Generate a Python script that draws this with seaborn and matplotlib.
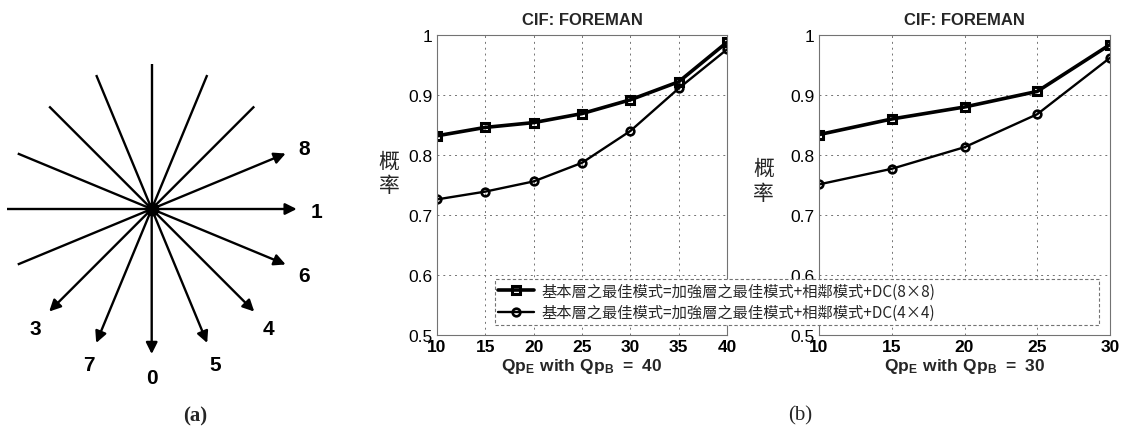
import numpy as np
import pandas as pd
import matplotlib
matplotlib.use("Agg")
import matplotlib.pyplot as plt
from matplotlib.font_manager import FontProperties
import seaborn as sns

# ---- data -------------------------------------------------------------
# (a) intra 4x4 prediction directions: mode number and angle (degrees, CCW from +x)
mode_labels = ["8", "1", "6", "4", "5", "0", "7", "3"]
mode_angles = [22.5, 0.0, -22.5, -45.0, -67.5, -90.0, -112.5, -135.0]

# (b) probability curves
qp_e_left = [10, 15, 20, 25, 30, 35, 40]
dc8_left = [0.832, 0.846, 0.854, 0.869, 0.892, 0.922, 0.988]
dc4_left = [0.726, 0.739, 0.756, 0.787, 0.840, 0.911, 0.976]

qp_e_right = [10, 15, 20, 25, 30]
dc8_right = [0.834, 0.860, 0.880, 0.906, 0.984]
dc4_right = [0.751, 0.777, 0.813, 0.868, 0.962]

series_names = ["基本層之最佳模式=加強層之最佳模式+相鄰模式+DC(8×8)",
                "基本層之最佳模式=加強層之最佳模式+相鄰模式+DC(4×4)"]
panel_title = "CIF: FOREMAN"
xlabels = [r"$\mathbf{Qp_E\ with\ Qp_B\ =\ 40}$", r"$\mathbf{Qp_E\ with\ Qp_B\ =\ 30}$"]
y_label = "概\n率"
y_ticks = [0.5, 0.6, 0.7, 0.8, 0.9, 1.0]
y_ticklabels = ["0.5", "0.6", "0.7", "0.8", "0.9", "1"]

# ---- style ------------------------------------------------------------
sns.set_style("white")
plt.rcParams["font.family"] = ["Liberation Sans", "Noto Sans CJK TC", "DejaVu Sans"]
plt.rcParams["mathtext.fontset"] = "custom"
plt.rcParams["mathtext.bf"] = "Liberation Sans:bold"
plt.rcParams["mathtext.rm"] = "Liberation Sans"

W, H = 1121, 435
fig = plt.figure(figsize=(W / 100, H / 100), dpi=100)

# ---- (a) direction star -----------------------------------------------
R = 145.0   # pixels per unit radius
cx, cy = 151.7, 210.0
ax0 = fig.add_axes([0, 0, 340 / W, 1])
ax0.set_xlim(-cx / R, (340 - cx) / R)
ax0.set_ylim((cy - H) / R, cy / R)
ax0.axis("off")
for lab, ang in zip(mode_labels, mode_angles):
    t = np.deg2rad(ang)
    dx, dy = np.cos(t), np.sin(t)
    # back half of the line (no arrowhead)
    ax0.plot([0, -dx], [0, -dy], color="black", lw=1.7, solid_capstyle="butt")
    ax0.annotate("", xy=(dx, dy), xytext=(0, 0),
                 arrowprops=dict(arrowstyle="-|>", color="black", lw=1.7,
                                 mutation_scale=17, shrinkA=0, shrinkB=0))
    ax0.text(1.14 * dx, 1.14 * dy - 0.02, lab, fontsize=15, fontweight="bold",
             ha="center", va="center", color="black")
ax0.plot([0], [0], "o", color="black", ms=9)
fig.text(195 / W, 1 - 416 / H, "(a)", family="Liberation Serif", fontweight="bold",
         fontsize=15, ha="center", va="center")

# ---- (b) probability plots ----------------------------------------------
def draw_panel(rect, xs, y8, y4, xlabel, ylab_pos):
    ax = fig.add_axes(rect)
    df = pd.DataFrame({
        "QpE": list(xs) * 2,
        "prob": list(y8) + list(y4),
        "series": [series_names[0]] * len(xs) + [series_names[1]] * len(xs),
    })
    sns.lineplot(data=df[df.series == series_names[0]], x="QpE", y="prob", ax=ax,
                 color="black", lw=2.6, marker="s", ms=6, mfc="none", mec="black",
                 mew=2.2, label=series_names[0], legend=False)
    sns.lineplot(data=df[df.series == series_names[1]], x="QpE", y="prob", ax=ax,
                 color="black", lw=1.7, marker="o", ms=5.5, mfc="none", mec="black",
                 mew=1.9, label=series_names[1], legend=False)
    ax.set_xlim(xs[0], xs[-1])
    ax.set_ylim(0.5, 1.0)
    ax.set_xticks(xs)
    ax.set_xticklabels([str(v) for v in xs], fontweight="bold", fontsize=12.5)
    ax.set_yticks(y_ticks)
    ax.set_yticklabels(y_ticklabels, fontsize=12.5)
    ax.tick_params(direction="in", length=3, width=0.6, pad=3, colors="black")
    ax.grid(True, linestyle=(0, (2, 4)), color="0.45", lw=0.7)
    for s in ax.spines.values():
        s.set_color("0.45")
        s.set_linewidth(0.8)
    ax.set_title(panel_title, fontsize=12, fontweight="bold", pad=8)
    ax.set_xlabel(xlabel, fontsize=12.5, labelpad=1)
    ax.set_ylabel(y_label, rotation=0, fontsize=15, linespacing=1.15,
                  family=["Noto Sans CJK TC"], ha="center", va="center")
    ax.yaxis.set_label_coords(*ylab_pos)
    return ax

bottom = 1 - 336 / H
height = 300 / H
ax1 = draw_panel([437 / W, bottom, 290 / W, height], qp_e_left, dc8_left, dc4_left,
                 xlabels[0], (-0.165, 0.54))
ax2 = draw_panel([819 / W, bottom, 291 / W, height], qp_e_right, dc8_right, dc4_right,
                 xlabels[1], (-0.19, 0.515))

handles, labels = ax1.get_legend_handles_labels()
leg = fig.legend(handles, labels, loc="center left",
                 bbox_to_anchor=(487 / W, 1 - 327 / H, 620 / W, 48 / H),
                 mode="expand", prop=FontProperties(family=["Noto Sans CJK TC", "DejaVu Sans"], size=11),
                 handlelength=2.3, handletextpad=0.5, labelspacing=0.3,
                 borderpad=0.25, fancybox=False, framealpha=1, edgecolor="0.45")
leg.get_frame().set_linestyle((0, (3, 2)))
leg.get_frame().set_linewidth(0.8)

fig.text(800 / W, 1 - 416 / H, "(b)", family="Liberation Serif", fontsize=15,
         ha="center", va="center")

fig.savefig("out.png", dpi=100, facecolor="white")
